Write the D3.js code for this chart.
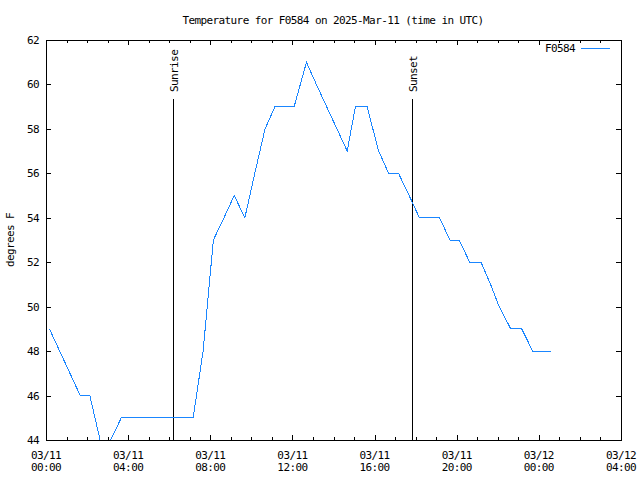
<!DOCTYPE html>
<html>
<head>
<meta charset="utf-8">
<script src="https://cdn.jsdelivr.net/npm/d3@7/dist/d3.min.js"></script>
<style>
  html, body { margin: 0; padding: 0; background: #fff; }
  text { font-family: "DejaVu Sans Mono", monospace; font-size: 11px; letter-spacing: -0.6px; fill: #000; }
</style>
</head>
<body>
<svg id="chart" width="640" height="480"></svg>
<script>
// ---- data ----
const stationName = "F0584";
const chartTitle = "Temperature for F0584 on 2025-Mar-11 (time in UTC)";
const yAxisLabel = "degrees F";
const obsTimes = [
  "2025-03-11T00:10Z","2025-03-11T00:40Z","2025-03-11T01:10Z","2025-03-11T01:40Z",
  "2025-03-11T02:08Z","2025-03-11T02:38Z","2025-03-11T03:09Z","2025-03-11T03:40Z",
  "2025-03-11T07:10Z","2025-03-11T07:39Z","2025-03-11T08:09Z","2025-03-11T08:40Z",
  "2025-03-11T09:10Z","2025-03-11T09:41Z","2025-03-11T10:10Z","2025-03-11T10:40Z",
  "2025-03-11T11:09Z","2025-03-11T11:39Z","2025-03-11T12:05Z","2025-03-11T12:41Z",
  "2025-03-11T13:10Z","2025-03-11T13:40Z","2025-03-11T14:10Z","2025-03-11T14:40Z",
  "2025-03-11T15:04Z","2025-03-11T15:38Z","2025-03-11T16:12Z","2025-03-11T16:41Z",
  "2025-03-11T17:10Z","2025-03-11T17:41Z","2025-03-11T18:11Z","2025-03-11T18:40Z",
  "2025-03-11T19:10Z","2025-03-11T19:40Z","2025-03-11T20:07Z","2025-03-11T20:38Z",
  "2025-03-11T21:11Z","2025-03-11T21:39Z","2025-03-11T22:04Z","2025-03-11T22:38Z",
  "2025-03-11T23:10Z","2025-03-11T23:42Z","2025-03-12T00:12Z","2025-03-12T00:35Z"
];
const obsTemps = [
  49, 48, 47, 46,
  46, 44, 44, 45,
  45, 48, 53, 54,
  55, 54, 56, 58,
  59, 59, 59, 61,
  60, 59, 58, 57,
  59, 59, 57, 56,
  56, 55, 54, 54,
  54, 53, 53, 52,
  52, 51, 50, 49,
  49, 48, 48, 48
];
const sunEventNames = ["Sunrise", "Sunset"];
const sunEventTimes = ["2025-03-11T06:12Z", "2025-03-11T17:48Z"];
const xDomain = ["2025-03-11T00:00Z", "2025-03-12T04:00Z"];
const yDomain = [44, 62];
const yTickValues = [44, 46, 48, 50, 52, 54, 56, 58, 60, 62];

// ---- layout ----
const svg = d3.select("#chart");
const L = 46, R = 621, T = 40, B = 440;
const parse = d3.isoParse;
const x = d3.scaleUtc().domain(xDomain.map(parse)).range([L, R]);
const y = d3.scaleLinear().domain(yDomain).range([B, T]);
const lineColor = "#1a86ff";

const data = obsTimes.map((t, i) => ({ t: parse(t), v: obsTemps[i] }));

// clip
svg.append("defs").append("clipPath").attr("id", "plotclip")
  .append("rect").attr("x", L).attr("y", T).attr("width", R - L).attr("height", B - T);

// ticks
const majorTicks = x.ticks(d3.utcHour.every(4));
const minorTicks = x.ticks(d3.utcHour.every(1));
const tg = svg.append("g").attr("stroke", "#000").attr("stroke-width", 1).attr("shape-rendering", "crispEdges");
minorTicks.forEach(d => {
  const isMajor = d.getUTCHours() % 4 === 0;
  const len = isMajor ? 5 : 3;
  const px = Math.round(x(d)) + 0.5;
  tg.append("line").attr("x1", px).attr("x2", px).attr("y1", B).attr("y2", B - len);
  tg.append("line").attr("x1", px).attr("x2", px).attr("y1", T).attr("y2", T + len);
});
yTickValues.forEach(v => {
  const py = Math.round(y(v)) + 0.5;
  tg.append("line").attr("x1", L).attr("x2", L + 5).attr("y1", py).attr("y2", py);
  tg.append("line").attr("x1", R).attr("x2", R - 5).attr("y1", py).attr("y2", py);
});

// y tick labels
svg.append("g").selectAll("text").data(yTickValues).join("text")
  .attr("x", 39).attr("y", d => y(d) + 4).attr("text-anchor", "end").text(d => d);

// x tick labels
const fmtDate = d3.utcFormat("%m/%d"), fmtTime = d3.utcFormat("%H:%M");
const xl = svg.append("g").selectAll("text").data(majorTicks).join("text")
  .attr("text-anchor", "middle");
xl.append("tspan").attr("x", d => x(d)).attr("y", 459).text(d => fmtDate(d));
xl.append("tspan").attr("x", d => x(d)).attr("y", 471).text(d => fmtTime(d));

// sunrise / sunset lines
sunEventTimes.forEach((t, i) => {
  const px = Math.round(x(parse(t))) + 0.5;
  svg.append("line").attr("x1", px).attr("x2", px).attr("y1", 99).attr("y2", B)
    .attr("stroke", "#000").attr("stroke-width", 1).attr("shape-rendering", "crispEdges");
  svg.append("text").attr("transform", `translate(${px + 4},92) rotate(-90)`)
    .attr("text-anchor", "start").text(sunEventNames[i]);
});

// data line
svg.append("path").datum(data)
  .attr("clip-path", "url(#plotclip)")
  .attr("fill", "none").attr("stroke", lineColor).attr("stroke-width", 1)
  .attr("shape-rendering", "crispEdges")
  .attr("d", d3.line().x(d => x(d.t)).y(d => y(d.v)));

// border
svg.append("rect").attr("x", L + 0.5).attr("y", T + 0.5).attr("width", R - L).attr("height", B - T)
  .attr("fill", "none").attr("stroke", "#000").attr("stroke-width", 1).attr("shape-rendering", "crispEdges");

// title
svg.append("text").attr("x", 333).attr("y", 24).attr("text-anchor", "middle").text(chartTitle);

// y axis label
svg.append("text").attr("transform", "translate(14,240) rotate(-90)").attr("text-anchor", "middle").text(yAxisLabel);

// legend
svg.append("text").attr("x", 575).attr("y", 52).attr("text-anchor", "end").text(stationName);
svg.append("line").attr("x1", 581).attr("x2", 610).attr("y1", 48.5).attr("y2", 48.5)
  .attr("stroke", lineColor).attr("stroke-width", 1).attr("shape-rendering", "crispEdges");
</script>
</body>
</html>
